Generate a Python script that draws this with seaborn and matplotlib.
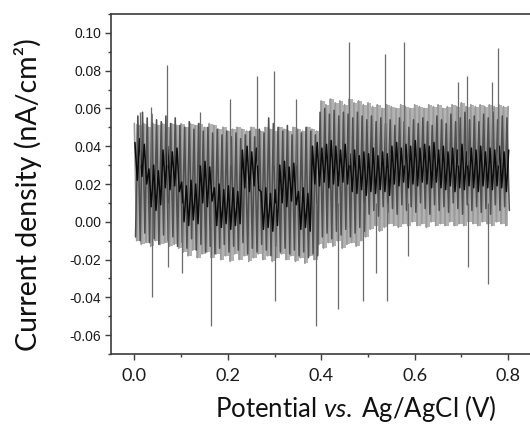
import numpy as np
import pandas as pd
import matplotlib
matplotlib.use("Agg")
import matplotlib.pyplot as plt
import seaborn as sns
from matplotlib.ticker import MultipleLocator

# ---------------- data ----------------
x_step = 0.005  # sampling step of the potential sweep (V)

scan_light = [
    0.052, -0.010, 0.051, -0.012, 0.052, -0.011, 0.050, -0.013, 0.052, -0.010,
    0.051, -0.012, 0.052, -0.011, 0.050, -0.013, 0.052, -0.012, 0.051, -0.014,
    0.052, -0.016, 0.050, -0.018, 0.052, -0.015, 0.051, -0.019, 0.052, -0.017,
    0.050, -0.016, 0.052, -0.019, 0.051, -0.017, 0.049, -0.020, 0.050, -0.018,
    0.048, -0.021, 0.049, -0.017, 0.050, -0.020, 0.049, -0.018, 0.048, -0.021,
    0.050, -0.019, 0.049, -0.017, 0.048, -0.020, 0.050, -0.018, 0.049, -0.021,
    0.048, -0.019, 0.050, -0.017, 0.049, -0.020, 0.048, -0.018, 0.050, -0.021,
    0.049, -0.019, 0.048, -0.022, 0.050, -0.018, 0.049, -0.020, 0.048, -0.012,
    0.064, -0.014, 0.062, -0.011, 0.065, -0.013, 0.063, -0.010, 0.064, -0.014,
    0.062, -0.012, 0.065, -0.011, 0.063, -0.013, 0.064, -0.010, 0.062, -0.008,
    0.063, -0.004, 0.061, -0.002, 0.062, -0.005, 0.060, -0.003, 0.062, -0.001,
    0.061, -0.002, 0.060, -0.003, 0.062, -0.001, 0.061, -0.002, 0.060, 0.000,
    0.062, -0.002, 0.061, -0.001, 0.060, -0.003, 0.062, 0.000, 0.061, -0.002,
    0.062, -0.001, 0.060, -0.002, 0.061, 0.000, 0.062, -0.002, 0.061, -0.001,
    0.063, -0.002, 0.061, 0.000, 0.062, -0.001, 0.061, -0.002, 0.062, 0.000,
    0.061, -0.001, 0.062, -0.002, 0.061, 0.000, 0.062, -0.001, 0.061, -0.002,
    0.061,
]

scan_dark = [
    -0.008, 0.056, -0.010, 0.058, -0.006, 0.055, -0.011, 0.057, -0.009, 0.054,
    -0.012, 0.053, -0.007, 0.056, -0.010, 0.052, -0.008, 0.055, -0.013, 0.051,
    -0.011, 0.050, -0.014, 0.053, -0.009, 0.049, -0.015, 0.052, -0.012, 0.048,
    -0.016, 0.050, -0.013, 0.047, -0.017, 0.049, -0.014, 0.046, -0.012, 0.048,
    -0.016, 0.045, -0.013, 0.047, -0.015, 0.044, -0.011, 0.046, -0.017, 0.048,
    -0.014, 0.045, -0.016, 0.049, -0.012, 0.047, -0.015, 0.055, -0.018, 0.052,
    -0.013, 0.050, -0.016, 0.048, -0.014, 0.051, -0.017, 0.046, -0.015, 0.049,
    -0.018, 0.047, -0.016, 0.050, -0.019, 0.048, -0.017, 0.046, -0.018, 0.058,
    -0.008, 0.060, -0.006, 0.057, -0.009, 0.059, -0.005, 0.056, -0.007, 0.058,
    -0.004, 0.057, -0.008, 0.055, -0.006, 0.058, -0.003, 0.056, -0.005, 0.054,
    0.004, 0.056, 0.006, 0.053, 0.003, 0.055, 0.008, 0.052, 0.005, 0.054,
    0.007, 0.051, 0.004, 0.055, 0.009, 0.053, 0.006, 0.050, 0.008, 0.054,
    0.005, 0.052, 0.010, 0.055, 0.007, 0.053, 0.004, 0.051, 0.009, 0.056,
    0.006, 0.054, 0.008, 0.052, 0.005, 0.057, 0.010, 0.053, 0.007, 0.055,
    0.004, 0.058, 0.009, 0.054, 0.006, 0.056, 0.008, 0.053, 0.005, 0.057,
    0.007, 0.055, 0.004, 0.058, 0.009, 0.054, 0.006, 0.056, 0.008, 0.055,
    0.006,
]

scan_black = [
    0.042, 0.022, 0.044, 0.024, 0.041, 0.020,
    0.028, 0.008, 0.030, 0.006, 0.027, 0.009,
    0.038, 0.018, 0.040, 0.017, 0.037, 0.019, 0.039, 0.016,
    0.021, 0.000, 0.019, -0.002, 0.022, 0.001, 0.020, -0.001,
    0.030, 0.010, 0.032, 0.008, 0.029, 0.011,
    0.018, -0.002, 0.020, -0.003, 0.017, -0.001, 0.019, -0.004, 0.018, -0.002, 0.016, -0.001,
    0.038, 0.018, 0.040, 0.016, 0.037, 0.019, 0.039, 0.017,
    0.016, -0.004, 0.018, -0.003, 0.015, -0.005, 0.017, -0.002,
    0.030, 0.010, 0.032, 0.008, 0.029, 0.011, 0.031, 0.009,
    0.016, -0.004, 0.018, -0.003, 0.015, -0.005,
    0.040, 0.020, 0.042, 0.019, 0.039, 0.021, 0.041, 0.018,
    0.043, 0.020, 0.040, 0.019, 0.038, 0.021, 0.041, 0.020,
    0.036, 0.016, 0.038, 0.015, 0.035, 0.017, 0.037, 0.014, 0.036, 0.016,
    0.039, 0.015, 0.035, 0.017, 0.037, 0.016, 0.036, 0.014,
    0.040, 0.020, 0.042, 0.019, 0.039, 0.021, 0.041, 0.018, 0.040, 0.020,
    0.043, 0.019, 0.039, 0.021, 0.041, 0.020, 0.040, 0.018, 0.042, 0.021,
    0.038, 0.018, 0.040, 0.017, 0.037, 0.019, 0.039, 0.016, 0.038, 0.018,
    0.041, 0.017, 0.037, 0.019, 0.039, 0.018, 0.038, 0.016, 0.040, 0.019,
    0.037, 0.018, 0.039, 0.017, 0.038, 0.019, 0.040, 0.018, 0.037, 0.016,
    0.038,
]

spike_up_x = [0.012, 0.035, 0.070, 0.140, 0.204, 0.263, 0.298, 0.345,
              0.459, 0.536, 0.577, 0.692, 0.712, 0.765, 0.778]
spike_up_y = [0.058, 0.061, 0.083, 0.058, 0.065, 0.077, 0.080, 0.065,
              0.095, 0.089, 0.095, 0.074, 0.077, 0.074, 0.092]
spike_dn_x = [0.037, 0.073, 0.102, 0.165, 0.302, 0.388, 0.435, 0.489,
              0.517, 0.540, 0.585, 0.714, 0.757]
spike_dn_y = [-0.040, -0.024, -0.027, -0.055, -0.042, -0.055, -0.046, -0.042,
              -0.027, -0.042, -0.018, -0.024, -0.033]

x_ticks = [0.0, 0.2, 0.4, 0.6, 0.8]
y_ticks = [-0.06, -0.04, -0.02, 0.00, 0.02, 0.04, 0.06, 0.08, 0.10]

# ---------------- figure ----------------
sns.set_theme(style="ticks")
plt.rcParams["font.family"] = ["Lato", "DejaVu Sans"]
plt.rcParams["mathtext.fontset"] = "custom"
plt.rcParams["mathtext.rm"] = "Lato"
plt.rcParams["mathtext.it"] = "Lato:italic"

fig = plt.figure(figsize=(5.30, 4.28), dpi=100)
ax = fig.add_axes([111 / 530, 74 / 428, 420.5 / 530, 340 / 428])


def frame(vals, offset):
    xs = np.arange(len(vals)) * x_step + offset
    return pd.DataFrame({"x": xs, "y": vals})


d_light = frame(scan_light, 0.0)
d_dark = frame(scan_dark, 0.0025)
d_black = frame(scan_black, 0.00125)

# band swept by the light trace between consecutive samples
env_hi = d_light["y"].rolling(2, min_periods=1).max()
env_lo = d_light["y"].rolling(2, min_periods=1).min()
ax.fill_between(d_light["x"], env_lo, env_hi, color="#b3b3b3", lw=0, step="mid")

sns.lineplot(data=d_light, x="x", y="y", sort=False, estimator=None,
             color="#9a9a9a", lw=1.2, ax=ax)
sns.lineplot(data=d_dark, x="x", y="y", sort=False, estimator=None,
             color="#505050", lw=1.15, ax=ax)
sns.lineplot(data=d_black, x="x", y="y", sort=False, estimator=None,
             color="#0a0a0a", lw=1.1, ax=ax)

ax.vlines(spike_up_x, 0.03, spike_up_y, color="#6a6a6a", lw=0.9)
ax.vlines(spike_dn_x, 0.01, spike_dn_y, color="#6a6a6a", lw=0.9)

ax.set_xlim(-0.05, 0.85)
ax.set_ylim(-0.07, 0.11)
ax.set_xticks(x_ticks)
ax.set_xticklabels([f"{v:.1f}" for v in x_ticks])
ax.set_yticks(y_ticks)
ax.set_yticklabels([f"{v:.2f}" for v in y_ticks])
ax.xaxis.set_minor_locator(MultipleLocator(0.1))
ax.yaxis.set_minor_locator(MultipleLocator(0.01))

for s in ax.spines.values():
    s.set_color("#3c3c3c")
    s.set_linewidth(1.2)

ax.tick_params(axis="both", which="major", direction="out", length=4,
               width=1.0, color="#3c3c3c")
ax.tick_params(axis="both", which="minor", direction="out", length=2.5,
               width=1.0, color="#3c3c3c")
ax.tick_params(axis="x", labelsize=13, pad=6, labelcolor="#1a1a1a")
ax.tick_params(axis="y", pad=3)
for lab in ax.get_yticklabels():
    lab.set_fontfamily(["Liberation Sans", "DejaVu Sans"])
    lab.set_fontsize(10)
    lab.set_color("#1a1a1a")

ax.set_xlabel(r"Potential $\mathit{vs.}\;$Ag/AgCl (V)", fontsize=18.5, color="#111111")
ax.set_ylabel("Current density (nA/cm²)", fontsize=20.5, color="#111111")
ax.xaxis.set_label_coords(0.583, -0.115)
ax.yaxis.set_label_coords(-0.164, 0.47)

fig.savefig("out.png", dpi=100)
